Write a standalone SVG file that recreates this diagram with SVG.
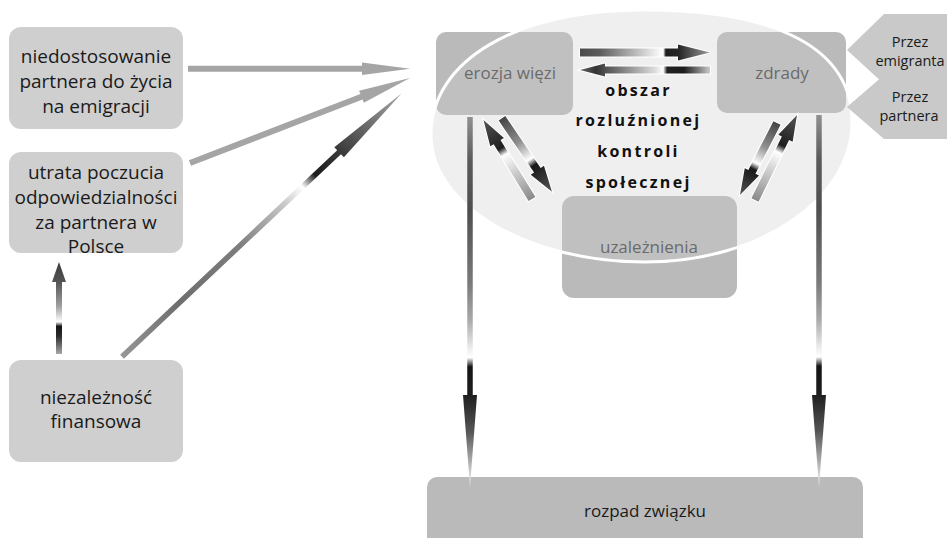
<svg xmlns="http://www.w3.org/2000/svg" width="947" height="538" viewBox="0 0 947 538">
<style>
  .lbox { fill: #cfcfcf; }
  .rbox { fill: #bababa; }
  .ltxt { font-family: "Open Sans", "Noto Sans", sans-serif; font-size: 19px; fill: #1a1a1a; text-anchor: middle; }
  .rtxt { font-family: "Open Sans", "Noto Sans", sans-serif; font-size: 17px; fill: #3c3c3c; text-anchor: middle; }
  .btxt { font-family: "Open Sans", "Noto Sans", sans-serif; font-size: 17px; fill: #1a1a1a; text-anchor: middle; }
  .ptxt { font-family: "Open Sans", "Noto Sans", sans-serif; font-size: 14.5px; fill: #1a1a1a; text-anchor: middle; }
  .otxt { font-family: "Open Sans", "Noto Sans", sans-serif; font-size: 16px; font-weight: bold; letter-spacing: 2.3px; fill: #111; text-anchor: middle; }
  .flat { fill: #a5a5a5; }
  .pair { stroke: #ffffff; stroke-width: 2; paint-order: stroke; stroke-linejoin: miter; }
  .przez { fill: #c9c9c9; }
</style>
<defs>
  <linearGradient id="gLong" x1="0" y1="0" x2="1" y2="0">
    <stop offset="0" stop-color="#969696"/>
    <stop offset="0.2" stop-color="#6e6e6e"/>
    <stop offset="0.42" stop-color="#7d7d7d"/>
    <stop offset="0.58" stop-color="#c8c8c8"/>
    <stop offset="0.645" stop-color="#ffffff"/>
    <stop offset="0.69" stop-color="#1c1c1c"/>
    <stop offset="0.78" stop-color="#3a3a3a"/>
    <stop offset="1" stop-color="#a8a8a8"/>
  </linearGradient>
  <linearGradient id="gUp" x1="0" y1="0" x2="1" y2="0">
    <stop offset="0" stop-color="#a8a8a8"/>
    <stop offset="0.2" stop-color="#2a2a2a"/>
    <stop offset="0.3" stop-color="#151515"/>
    <stop offset="0.35" stop-color="#ffffff"/>
    <stop offset="0.52" stop-color="#a0a0a0"/>
    <stop offset="0.78" stop-color="#555555"/>
    <stop offset="1" stop-color="#3c3c3c"/>
  </linearGradient>
  <linearGradient id="gT1" x1="0" y1="0" x2="1" y2="0">
    <stop offset="0" stop-color="#4a4a4a"/>
    <stop offset="0.15" stop-color="#5c5c5c"/>
    <stop offset="0.6" stop-color="#f4f4f4"/>
    <stop offset="0.64" stop-color="#ffffff"/>
    <stop offset="0.66" stop-color="#1e1e1e"/>
    <stop offset="0.76" stop-color="#262626"/>
    <stop offset="1" stop-color="#9c9c9c"/>
  </linearGradient>
  <linearGradient id="gT2" x1="0" y1="0" x2="1" y2="0">
    <stop offset="0" stop-color="#cacaca"/>
    <stop offset="0.2" stop-color="#1c1c1c"/>
    <stop offset="0.33" stop-color="#202020"/>
    <stop offset="0.36" stop-color="#ffffff"/>
    <stop offset="0.42" stop-color="#dedede"/>
    <stop offset="0.79" stop-color="#555555"/>
    <stop offset="0.88" stop-color="#333333"/>
    <stop offset="1" stop-color="#666666"/>
  </linearGradient>
  <linearGradient id="gLight" x1="0" y1="0" x2="1" y2="0">
    <stop offset="0" stop-color="#8a8a8a"/>
    <stop offset="0.38" stop-color="#d6d6d6"/>
    <stop offset="0.56" stop-color="#ffffff"/>
    <stop offset="0.64" stop-color="#1e1e1e"/>
    <stop offset="0.73" stop-color="#2a2a2a"/>
    <stop offset="1" stop-color="#555555"/>
  </linearGradient>
  <linearGradient id="gDark" x1="0" y1="0" x2="1" y2="0">
    <stop offset="0" stop-color="#444444"/>
    <stop offset="0.33" stop-color="#8f8f8f"/>
    <stop offset="0.56" stop-color="#ffffff"/>
    <stop offset="0.64" stop-color="#1a1a1a"/>
    <stop offset="0.72" stop-color="#242424"/>
    <stop offset="1" stop-color="#555555"/>
  </linearGradient>
  <linearGradient id="gVert" x1="0" y1="0" x2="1" y2="0">
    <stop offset="0" stop-color="#909090"/>
    <stop offset="0.12" stop-color="#5a5a5a"/>
    <stop offset="0.25" stop-color="#4e4e4e"/>
    <stop offset="0.45" stop-color="#7a7a7a"/>
    <stop offset="0.55" stop-color="#aaaaaa"/>
    <stop offset="0.62" stop-color="#e8e8e8"/>
    <stop offset="0.65" stop-color="#ffffff"/>
    <stop offset="0.675" stop-color="#141414"/>
    <stop offset="0.75" stop-color="#1e1e1e"/>
    <stop offset="0.85" stop-color="#555555"/>
    <stop offset="1" stop-color="#f8f8f8"/>
  </linearGradient>
</defs>

<rect width="947" height="538" fill="#ffffff"/>

<!-- left nodes -->
<g id="niedostosowanie">
  <rect class="lbox" x="9" y="27" width="174" height="102" rx="12"/>
  <text class="ltxt" x="96" y="63">niedostosowanie</text>
  <text class="ltxt" x="96" y="88">partnera do życia</text>
  <text class="ltxt" x="96" y="112.5">na emigracji</text>
</g>
<g id="utrata">
  <rect class="lbox" x="9" y="152" width="174" height="101" rx="12"/>
  <text class="ltxt" x="96" y="179">utrata poczucia</text>
  <text class="ltxt" x="96" y="204">odpowiedzialności</text>
  <text class="ltxt" x="96" y="228.5">za partnera w</text>
  <text class="ltxt" x="96" y="253">Polsce</text>
</g>
<g id="niezaleznosc">
  <rect class="lbox" x="9" y="360" width="174" height="102" rx="12"/>
  <text class="ltxt" x="96" y="404">niezależność</text>
  <text class="ltxt" x="96" y="428">finansowa</text>
</g>

<!-- right nodes (under the area overlay) -->
<g id="erozja">
  <rect class="rbox" x="436" y="32" width="137" height="83" rx="10"/>
  <text class="rtxt" x="510" y="79">erozja więzi</text>
</g>
<g id="zdrady">
  <rect class="rbox" x="717" y="32" width="129" height="81" rx="10"/>
  <text class="rtxt" x="782" y="79">zdrady</text>
</g>
<g id="uzaleznienia">
  <rect class="rbox" x="562" y="196" width="175" height="102" rx="12"/>
  <text class="rtxt" x="649" y="252.5">uzależnienia</text>
</g>
<g id="rozpad">
  <rect class="rbox" x="427" y="477" width="436" height="70" rx="10"/>
  <text class="btxt" x="645" y="517">rozpad związku</text>
</g>

<!-- area of loosened social control -->
<g id="obszar">
  <path d="M431,135 C431,60 517,10 645,10 C780,10 852,50 852,122 C852,198 762,262 645,262 C527,262 431,205 431,135 Z" fill="#cdcdcd" fill-opacity="0.32" stroke="#ffffff" stroke-width="3"/>
  <text class="otxt" x="638.5" y="96">obszar</text>
  <text class="otxt" x="638.5" y="126">rozluźnionej</text>
  <text class="otxt" x="638.5" y="157">kontroli</text>
  <text class="otxt" x="638.5" y="188">społecznej</text>
</g>

<!-- side arrows with labels -->
<g id="przez-partnera">
  <polygon class="przez" points="847,107 884,75 947,75 947,139 884,139"/>
  <text class="ptxt" x="910" y="102">Przez</text>
  <text class="ptxt" x="909" y="121">partnera</text>
</g>
<g id="przez-emigranta">
  <polygon class="przez" points="847,50 884,14 947,14 947,84 884,84"/>
  <text class="ptxt" x="910" y="47">Przez</text>
  <text class="ptxt" x="910" y="66">emigranta</text>
</g>

<!-- connectors -->
<g id="connectors">
  <path class="flat" transform="translate(188,68.8)" d="M0,-3 H174 V-6.25 L222,0 L174,6.25 V3 H0 Z"/>
  <path class="flat" transform="translate(190,163) rotate(-21.12)" d="M0,-3 H183.8 V-6.5 L235.8,0 L183.8,6.5 V3 H0 Z"/>
  <path fill="url(#gLong)" transform="translate(122,356.7) rotate(-43.28)" d="M0,-2.75 H298.2 V-7 L384.2,0 L298.2,7 V2.75 H0 Z"/>
  <path fill="url(#gUp)" transform="translate(59,354) rotate(-90)" d="M0,-3 H72 V-7 L92,0 L72,7 V3 H0 Z"/>
  <path class="pair" fill="url(#gT1)" transform="translate(580,52.5)" d="M0,-4 H98 V-8 L130,0 L98,8 V4 H0 Z"/>
  <path class="pair" fill="url(#gT2)" transform="translate(710,70) rotate(180)" d="M0,-3.5 H105 V-6.5 L130,0 L105,6.5 V3.5 H0 Z"/>
  <path class="pair" fill="url(#gLight)" transform="translate(532,199) rotate(-121.55)" d="M0,-4 H66.7 V-8 L92.7,0 L66.7,8 V4 H0 Z"/>
  <path class="pair" fill="url(#gDark)" transform="translate(502,118.3) rotate(55.74)" d="M0,-4 H62.8 V-8 L88.8,0 L62.8,8 V4 H0 Z"/>
  <path class="pair" fill="url(#gDark)" transform="translate(777,123) rotate(117.2)" d="M0,-4 H54.9 V-8 L80.9,0 L54.9,8 V4 H0 Z"/>
  <path class="pair" fill="url(#gLight)" transform="translate(755,200) rotate(-63.7)" d="M0,-4 H68.8 V-8 L94.8,0 L68.8,8 V4 H0 Z"/>
  <path fill="url(#gVert)" transform="translate(470,117) rotate(90)" d="M0,-2.75 H278 V-7 L370,0 L278,7 V2.75 H0 Z"/>
  <path fill="url(#gVert)" transform="translate(819,115) rotate(90)" d="M0,-2.75 H280 V-7 L372,0 L280,7 V2.75 H0 Z"/>
</g>
</svg>
